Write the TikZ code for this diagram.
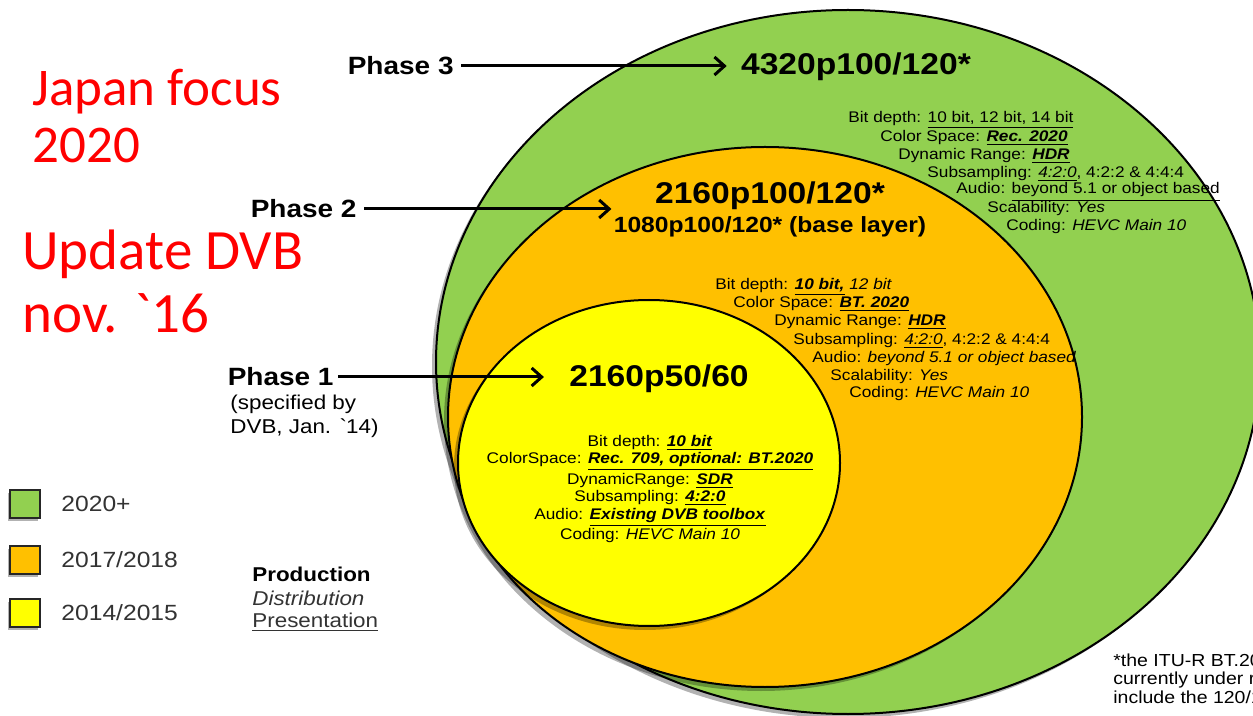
\documentclass[tikz,border=0pt]{standalone}
\usepackage{fontspec}
\setmainfont{Liberation Sans}[FakeStretch=1.12]
\newfontfamily\slidefont{Carlito}
\usepackage{tikz}
\usetikzlibrary{arrows.meta,positioning,shadows}
\definecolor{zonegreen}{HTML}{92D050}
\definecolor{zoneorange}{HTML}{FFC000}
\definecolor{zoneyellow}{HTML}{FFFF00}
\definecolor{slidered}{HTML}{FF0000}
\definecolor{legendgray}{HTML}{333333}
\newcommand{\bitul}[1]{\underline{\textbf{\textit{#1}}}}
\newcommand{\itul}[1]{\underline{\textit{#1}}}
\tikzset{
  zone/.style={draw=black,line width=1pt,
               drop shadow={shadow xshift=-2pt,shadow yshift=-2pt,opacity=0.3,fill=black}},
  phaselabel/.style={font=\fontsize{12.5}{15}\selectfont\bfseries,inner sep=1pt,anchor=east},
  headline/.style={font=\fontsize{15}{18}\selectfont\bfseries,inner sep=1pt},
  subline/.style={font=\fontsize{11}{13}\selectfont\bfseries,inner sep=1pt},
  detail/.style={font=\fontsize{7.7}{8.8}\selectfont,inner sep=0pt,anchor=west},
  phasearr/.style={-{Straight Barb[length=5pt,width=9pt]},line width=1.5pt},
  legendbox/.style={draw=black!85,line width=0.7pt,minimum width=15pt,minimum height=14pt,inner sep=0pt,
                    drop shadow={shadow xshift=-1pt,shadow yshift=-1.5pt,opacity=0.3,fill=black}},
  legendtext/.style={font=\fontsize{11}{13}\selectfont,text=legendgray,anchor=west,inner sep=0pt},
  fmttext/.style={font=\fontsize{10}{12}\selectfont,anchor=west,inner sep=0pt},
  slidetext/.style={font=\slidefont\fontsize{#1}{#1}\selectfont,text=slidered,anchor=base west,inner sep=0pt},
  notetext/.style={font=\fontsize{10}{12}\selectfont,align=left,inner sep=0pt}
}

\begin{document}
\begin{tikzpicture}[x=0.5pt,y=-0.5pt]
  \fill[white] (0,0) rectangle (1253,716);
  \useasboundingbox (0,0) rectangle (1253,716);
  \clip (0,0) rectangle (1253,716);

  % nested zones
  \draw[zone,fill=zonegreen] (848,362) ellipse [x radius=412,y radius=352];
  \draw[zone,fill=zoneorange] (765,417) ellipse [x radius=317,y radius=270];
  \draw[zone,fill=zoneyellow] (649,463) ellipse [x radius=191,y radius=163];

  % red slide notes
  \node[slidetext=26.5] (jp1) at (32,106) {Japan focus};
  \node[slidetext=26.5] (jp2) at (32,163) {2020};
  \node[slidetext=28.5] (up1) at (22,270) {Update DVB};
  \node[slidetext=28.5] (up2) at (22,333) {nov. \textasciigrave 16};

  % formats
  \node[headline] (hd3) at (856,67) {4320p100/120*};
  \node[headline] (hd2) at (770,196) {2160p100/120*};
  \node[subline,below=1pt of hd2] (hd2b) {1080p100/120* (base layer)};
  \node[headline] (hd1) at (659,379) {2160p50/60};

  % phases
  \node[phaselabel] (ph3) at (456,66) {Phase 3};
  \node[phaselabel] (ph2) at (359,209) {Phase 2};
  \node[phaselabel] (ph1) at (336,377) {Phase 1};
  \node[notetext,anchor=north west] (spec) at (230,395) {(specified by\\DVB, Jan. \textasciigrave 14)};
  \draw[phasearr,shorten <=2.5pt,shorten >=6pt] (ph3.east) -- (ph3.east -| hd3.west);
  \draw[phasearr,shorten <=2.5pt] (ph2.east) -- (ph2.east -| hd2b.west);
  \draw[phasearr,shorten <=1pt,shorten >=11.5pt] (ph1.east) -- (ph1.east -| hd1.west);

  % phase 3 parameters
  \foreach \xx/\yy/\txt [count=\k] in {
      848/120/{Bit depth: \underline{10 bit, 12 bit, 14 bit}},
      880/138/{Color Space: \bitul{Rec. 2020}},
      898/156/{Dynamic Range: \bitul{HDR}},
      927/174/{Subsampling: \itul{4:2:0}, 4:2:2 \& 4:4:4},
      956/192/{Audio: \underline{beyond 5.1 or object based}},
      987/209/{Scalability: \textit{Yes}},
      1006/227/{Coding: \textit{HEVC Main 10}}}
    \node[detail] (gd\k) at (\xx,\yy) {\txt};

  % phase 2 parameters
  \foreach \xx/\yy/\txt [count=\k] in {
      715/287/{Bit depth: \bitul{10 bit,} \textit{12 bit}},
      733/304/{Color Space: \bitul{BT. 2020}},
      774/322/{Dynamic Range: \bitul{HDR}},
      793/341/{Subsampling: \itul{4:2:0}, 4:2:2 \& 4:4:4},
      812/359/{Audio: \textit{beyond 5.1 or object based}},
      830/377/{Scalability: \textit{Yes}},
      849/394/{Coding: \textit{HEVC Main 10}}}
    \node[detail] (od\k) at (\xx,\yy) {\txt};

  % phase 1 parameters
  \node[detail,anchor=center,align=center] (yd) at (650,489) {%
    Bit depth: \bitul{10 bit}\\
    ColorSpace: \bitul{Rec. 709, optional: BT.2020}\\
    DynamicRange: \bitul{SDR}\\
    Subsampling: \bitul{4:2:0}\\
    Audio: \bitul{Existing DVB toolbox}\\
    Coding: \textit{HEVC Main 10}};

  % legend
  \foreach \col/\yy/\txt [count=\k] in {zonegreen/504/{2020+},zoneorange/560/{2017/2018},zoneyellow/613/{2014/2015}} {
    \node[legendbox,fill=\col] (lg\k) at (25,\yy) {};
    \node[legendtext,right=18pt of lg\k.center] (lt\k) {\txt};
  }
  \node[fmttext,font=\fontsize{10}{12}\selectfont\bfseries] (fmt1) at (252,574) {Production};
  \node[fmttext,text=legendgray] (fmt2) at (252,598) {\textit{Distribution}};
  \node[fmttext,text=legendgray] (fmt3) at (252,622) {\underline{Presentation}};

  \node[notetext,font=\fontsize{8.7}{9.3}\selectfont,anchor=north west] (fn) at (1113,653)
    {*the ITU-R BT.2020\\currently under re\\include the 120/10};
\end{tikzpicture}
\end{document}
